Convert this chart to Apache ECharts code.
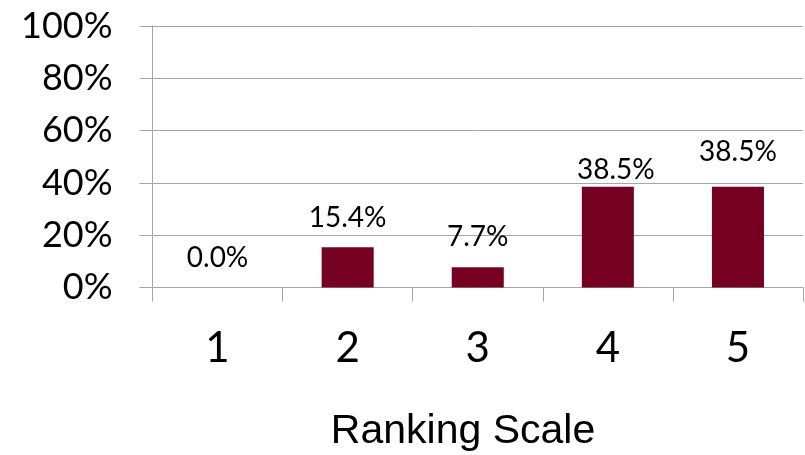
<!DOCTYPE html>
<html>
<head>
<meta charset="utf-8">
<script src="https://cdn.jsdelivr.net/npm/echarts@6/dist/echarts.min.js"></script>
<style>
html,body{margin:0;padding:0;background:#fff;}
#chart{width:805px;height:455px;}
</style>
</head>
<body>
<div id="chart"></div>
<script>
// Data
var categories = ['1', '2', '3', '4', '5'];
var values = [0.0, 0.154, 0.077, 0.385, 0.385];
var valueLabels = ['0.0%', '15.4%', '7.7%', '38.5%', '38.5%'];
var yTickValues = [0, 0.2, 0.4, 0.6, 0.8, 1.0];
var xAxisTitle = 'Ranking Scale';

// label placement nudges (style only): [dx, distance above bar top]
var labelNudge = [[0, 16], [0, 15], [0, 16], [8, 3], [0, 21]];

var chart = echarts.init(document.getElementById('chart'), null, {renderer: 'canvas'});
var gray = '#A6A6A6';

var seriesData = values.map(function (v, i) {
  return {
    value: v,
    label: {
      show: true,
      position: 'top',
      distance: labelNudge[i][1],
      offset: [labelNudge[i][0], 0],
      formatter: valueLabels[i],
      fontFamily: 'Lato',
      fontSize: 28,
      lineHeight: 28,
      color: '#000'
    }
  };
});

chart.setOption({
  animation: false,
  backgroundColor: '#fff',
  grid: {left: 152.5, right: 2, top: 26, bottom: 167.5, containLabel: false},
  xAxis: {
    type: 'category',
    data: categories,
    boundaryGap: true,
    axisLine: {show: true, lineStyle: {color: gray, width: 1}},
    axisTick: {show: true, length: 14, lineStyle: {color: gray}, alignWithLabel: false},
    axisLabel: {
      fontFamily: 'Lato',
      fontSize: 42,
      lineHeight: 42,
      color: '#000',
      margin: 40
    },
    splitLine: {show: false}
  },
  yAxis: {
    type: 'value',
    min: 0,
    max: 1,
    interval: 0.2,
    axisLine: {show: true, lineStyle: {color: gray, width: 1}},
    axisTick: {show: true, length: 13, lineStyle: {color: gray}},
    axisLabel: {
      fontFamily: 'Lato',
      fontSize: 36,
      color: '#000',
      margin: 40,
      formatter: function (v) {
        var ok = yTickValues.some(function (t) { return Math.abs(t - v) < 1e-9; });
        return ok ? Math.round(v * 100) + '%' : '';
      }
    },
    splitLine: {show: true, lineStyle: {color: gray, width: 1}}
  },
  graphic: [{
    type: 'text',
    x: 463,
    y: 432,
    style: {
      text: xAxisTitle,
      font: '41px "Liberation Sans", Arial, sans-serif',
      fill: '#000',
      textAlign: 'center',
      textVerticalAlign: 'middle'
    }
  }],
  series: [{
    type: 'bar',
    data: seriesData,
    barWidth: '40%',
    itemStyle: {color: '#760021'}
  }]
});
</script>
</body>
</html>
